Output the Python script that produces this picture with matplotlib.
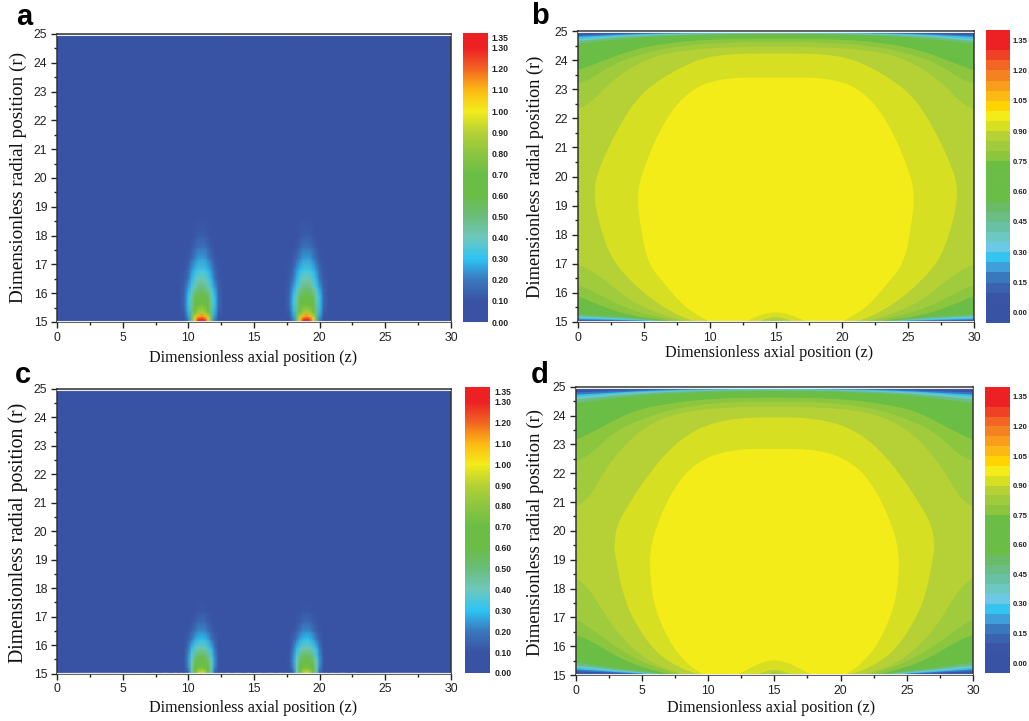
import numpy as np
from matplotlib import pyplot as plt
from matplotlib.cm import ScalarMappable
from matplotlib.colors import BoundaryNorm, LinearSegmentedColormap, ListedColormap, Normalize
from matplotlib.patches import PathPatch, Rectangle
from matplotlib.path import Path

W, H = 1029, 721

# panels b, d: iso-lines, as (z, r) from the top of the channel centre
# round the left side to the bottom of the centre; the right half is the mirror image
ISO_B_075 = [(15, 24.74), (10, 24.72), (6.6, 24.58), (4, 24.34), (1.5, 23.9), (0, 23.65), (-1, 23.5), (-1, 16),
             (0, 15.9), (1.5, 15.6), (4, 15.2), (6.6, 15.07), (8, 14.95), (14, 14.9), (15, 15.05)]
ISO_B_080 = [(15, 24.62), (11.6, 24.62), (7.9, 24.5), (5.3, 24.28), (2.8, 23.9), (1, 23.35), (0, 23.2), (-1, 23.1),
             (-1, 16.4), (0, 16.3), (1.5, 15.96), (4, 15.4), (6.6, 15.12), (8.5, 14.95), (14, 14.9), (15, 15.08)]
ISO_B_085 = [(15, 24.46), (11.6, 24.46), (7.9, 24.34), (5.3, 24.07), (2.8, 23.4), (0.9, 22.5), (0, 22.3), (-1, 22.2),
             (-1, 17.1), (0, 17), (1.5, 16.65), (4, 15.7), (6.6, 15.2), (8.4, 15), (11, 14.9), (14, 14.95), (15, 15.12)]
ISO_B_090 = [(15, 24.24), (10.4, 24.2), (7.9, 23.8), (5, 22.97), (3.3, 21.9), (1.5, 20.2), (1.2, 19.4), (1.6, 18.4),
             (2.5, 17.2), (4, 16.4), (5.8, 15.7), (7.9, 15.15), (9.2, 15), (11, 14.9), (13.5, 14.95), (14, 15.08), (15, 15.2)]
ISO_B_095 = [(15, 23.4), (11, 23.4), (8.5, 23), (6.5, 21.9), (4.9, 20.2), (4.5, 19.4), (4.7, 18.4), (5.3, 17),
             (6.6, 16.3), (7.9, 15.6), (9, 15.25), (10, 15), (11, 14.9), (12.2, 14.9), (12.9, 15.05), (14, 15.28), (15, 15.35)]

ISO_D_075 = [(15, 24.63), (10.4, 24.6), (6.6, 24.4), (4.1, 24.13), (1.6, 23.5), (0, 23.15), (-1, 23), (-1, 16.5),
             (0, 16.39), (1.1, 16.2), (3.6, 15.5), (6.1, 15.12), (8, 14.95), (14, 14.9), (15, 15.05)]
ISO_D_080 = [(15, 24.48), (11.7, 24.48), (7.9, 24.3), (5.4, 23.96), (2.9, 23.45), (1.1, 22.65), (0, 22.4), (-1, 22.3),
             (-1, 17.1), (0, 16.97), (1.6, 16.45), (4.1, 15.64), (6.6, 15.17), (8.5, 14.95), (14, 14.9), (15, 15.1)]
ISO_D_085 = [(15, 24.3), (11.7, 24.3), (7.9, 24.13), (5.4, 23.67), (3.6, 22.95), (2.1, 22.05), (1.1, 21.2), (0, 20.8),
             (-1, 20.6), (-1, 18.6), (0, 18.4), (1.1, 17.95), (2.1, 17.15), (3.6, 16.2), (5.4, 15.5), (7.4, 15.1),
             (9, 14.95), (14, 14.9), (15, 15.15)]
ISO_D_090 = [(15, 23.95), (11.7, 23.9), (9.1, 23.55), (7.1, 22.85), (5.4, 21.9), (4.1, 21), (3.1, 20.2), (2.9, 19.5),
             (3, 19.1), (3.6, 17.7), (4.6, 16.7), (6.1, 15.75), (7.9, 15.23), (9.4, 15), (11, 14.9), (13, 14.95),
             (13.9, 15.05), (15, 15.22)]
ISO_D_095 = [(15, 22.85), (11.7, 22.83), (9.1, 22.4), (7.4, 21.5), (6.1, 20.2), (5.6, 19.3), (5.6, 18.5), (5.9, 17.4),
             (7.1, 16.1), (8.4, 15.4), (9.3, 15.1), (10, 14.95), (11, 14.9), (11.9, 14.95), (12.6, 15.1), (13.8, 15.4),
             (15, 15.55)]

ISO_LEVELS = [.75, .8, .85, .9, .95]

# thin wall layers, r of each level at the axial stations below
WALL_LEVELS = [.05, .15, .25, .35, .45, .55]
WALL_Z_TOP = [15, 10, 6, 3, 0]
WALL_Z_BOTTOM = [0, 3, 6]
WALL_TOP_B = [[24.97, 24.96, 24.95, 24.94, 24.92],
              [24.96, 24.95, 24.93, 24.9, 24.85],
              [24.94, 24.93, 24.91, 24.87, 24.8],
              [24.93, 24.92, 24.89, 24.84, 24.72],
              [24.92, 24.9, 24.86, 24.8, 24.65],
              [24.9, 24.88, 24.82, 24.72, 24.56]]
WALL_BOTTOM_B = [[15.04, 15.03, 15.01], [15.07, 15.05, 15.02], [15.1, 15.07, 15.03],
                 [15.14, 15.1, 15.04], [15.2, 15.13, 15.05], [15.27, 15.18, 15.07]]
WALL_TOP_D = [[24.96, 24.95, 24.94, 24.92, 24.9],
              [24.95, 24.93, 24.9, 24.85, 24.8],
              [24.93, 24.91, 24.87, 24.8, 24.72],
              [24.91, 24.89, 24.84, 24.76, 24.64],
              [24.89, 24.87, 24.8, 24.7, 24.55],
              [24.86, 24.83, 24.75, 24.62, 24.42]]
WALL_BOTTOM_D = [[15.07, 15.04, 15.01], [15.14, 15.07, 15.02], [15.2, 15.1, 15.02],
                 [15.26, 15.13, 15.03], [15.34, 15.17, 15.05], [15.44, 15.23, 15.08]]

# plume panels a, c: table around one jet, columns are distances from the jet axis
JET_AXES = [11, 19]
JET_DZ = [0, .25, .5, .75, 1.0, 1.3, 1.7, 2.3, 3.2, 4]
BACKGROUND = 0.03

JET_R_A = [15.04, 15.1, 15.2, 15.35, 15.6, 15.9, 16.2, 16.5, 16.8, 17.2, 17.6, 18, 18.6, 19.5, 21, 24.96]
JET_A = [
    [1.33, 1.3, 1.1, .5, .2, .09, .06, .04, .03, .03],
    [1.3, 1.25, 1.05, .5, .22, .1, .06, .04, .03, .03],
    [1.15, 1.1, .9, .5, .25, .11, .06, .04, .03, .03],
    [.88, .85, .72, .48, .28, .13, .07, .04, .03, .03],
    [.72, .7, .62, .46, .31, .16, .08, .05, .03, .03],
    [.62, .60, .55, .42, .3, .15, .08, .05, .03, .03],
    [.50, .48, .43, .34, .25, .14, .08, .05, .03, .03],
    [.42, .41, .35, .28, .19, .12, .08, .05, .03, .03],
    [.34, .33, .29, .24, .16, .11, .07, .05, .03, .03],
    [.25, .25, .21, .16, .12, .09, .07, .05, .03, .03],
    [.18, .18, .15, .12, .1, .08, .06, .05, .03, .03],
    [.13, .13, .11, .1, .08, .07, .06, .05, .03, .03],
    [.09, .09, .08, .08, .07, .06, .05, .04, .03, .03],
    [.06, .06, .06, .06, .05, .05, .05, .04, .03, .03],
    [.03, .03, .03, .03, .03, .03, .03, .03, .03, .03],
    [.03, .03, .03, .03, .03, .03, .03, .03, .03, .03],
]
JET_R_C = [15.04, 15.1, 15.2, 15.4, 15.6, 15.9, 16.2, 16.5, 16.8, 17.2, 17.6, 18, 19.5, 21, 24.96]
JET_C = [
    [.95, .90, .7, .38, .16, .08, .05, .04, .03, .03],
    [.88, .84, .68, .4, .18, .09, .05, .04, .03, .03],
    [.75, .72, .62, .42, .22, .1, .06, .04, .03, .03],
    [.68, .65, .55, .4, .24, .11, .06, .04, .03, .03],
    [.58, .56, .48, .36, .23, .11, .06, .04, .03, .03],
    [.42, .41, .36, .29, .19, .1, .06, .04, .03, .03],
    [.3, .29, .26, .2, .14, .09, .06, .04, .03, .03],
    [.22, .22, .18, .14, .11, .08, .06, .04, .03, .03],
    [.16, .16, .13, .11, .09, .07, .05, .04, .03, .03],
    [.11, .11, .1, .09, .08, .06, .05, .04, .03, .03],
    [.08, .08, .08, .07, .06, .06, .05, .04, .03, .03],
    [.06, .06, .06, .05, .05, .05, .05, .04, .03, .03],
    [.04, .04, .04, .04, .04, .04, .04, .03, .03, .03],
    [.03, .03, .03, .03, .03, .03, .03, .03, .03, .03],
    [.03, .03, .03, .03, .03, .03, .03, .03, .03, .03],
]

# colours
SMOOTH_VALUES = [0, .1, .2, .3, .4, .5, .6, .7, .8, .9, 1.0, 1.1, 1.2, 1.3, 1.37]
SMOOTH_COLORS = ['#3953a4', '#3953a4', '#3a78bd', '#2cc4f4', '#6fc8bd', '#6abd7a', '#6abd45', '#6abd45',
                 '#8cc63f', '#b5d135', '#f3ec19', '#fdb913', '#f26522', '#ed2024', '#ed2024']
BAND_COLORS = ['#3953a4', '#3953a4', '#3a55a6', '#3a62ae', '#3a78bd', '#3f9fd8', '#35c3f0', '#6cc9e6',
               '#6dc8c3', '#69c1a5', '#6abd85', '#6abb68', '#6abd45', '#6abd45', '#6abd45', '#6abd45',
               '#8cc63f', '#9fcb3c', '#b5d135', '#d7df23', '#f3ec19', '#ffd400', '#fdb913', '#f99d1c',
               '#f58220', '#f26522', '#ef4123', '#ed2024', '#ed2024']
BAND_EDGES = [round(-.05 + .05 * i, 2) for i in range(30)]

TICKS_SMOOTH = [0, .1, .2, .3, .4, .5, .6, .7, .8, .9, 1.0, 1.1, 1.2, 1.3, 1.35]
TICKS_BANDS = [0, .15, .3, .45, .6, .75, .9, 1.05, 1.2, 1.35]

# pixel boxes: left, right, top, bottom
BOXES = {'a': (57, 451, 34, 322), 'b': (577.7, 974, 31, 322),
         'c': (57, 451, 389, 673.5), 'd': (575.7, 973, 386.7, 675)}
CBAR_BOXES = {'a': (463, 487.5, 33, 322), 'b': (986, 1010, 30, 323),
              'c': (465, 490, 387, 673), 'd': (985, 1010, 387, 673)}
LETTERS = {'a': (16, 25), 'b': (531, 24), 'c': (15, 383), 'd': (531, 383)}
XLABELS = {'a': (253, 358), 'b': (769, 353), 'c': (253, 708), 'd': (771, 708)}
YLABELS = {'a': (18, 177), 'b': (535, 177), 'c': (18, 533), 'd': (535, 533)}
YLABEL_SIZES = {'a': 13.8, 'b': 13.2, 'c': 14.2, 'd': 13.5}

SANS = 'Liberation Sans'
SERIF = 'Liberation Serif'


def box_axes(fig, box):
    left, right, top, bottom = box
    return fig.add_axes([left / W, 1 - bottom / H, (right - left) / W, (bottom - top) / H])


def jet_field(dz, table):
    table = np.asarray(table)
    dz = np.asarray(dz)
    z = [[0], JET_AXES[0] - dz[:0:-1], [JET_AXES[0]], JET_AXES[0] + dz[1:],
         JET_AXES[1] - dz[:0:-1], [JET_AXES[1]], JET_AXES[1] + dz[1:], [30]]
    rows = np.full((table.shape[0], 1), BACKGROUND)
    jet = np.hstack([table[:, :0:-1], table])
    return np.concatenate(z), np.hstack([rows, jet, jet, rows])


def loop_path(points):
    # mirror the left half and run a closed quadratic spline through the loop
    left = np.array(points, dtype=float)
    right = left[-2:0:-1].copy()
    right[:, 0] = 30 - right[:, 0]
    ctrl = np.vstack([left, right])
    mids = (ctrl + np.roll(ctrl, -1, axis=0)) / 2
    verts = [mids[-1]]
    codes = [Path.MOVETO]
    for c, m in zip(ctrl, mids):
        verts += [c, m]
        codes += [Path.CURVE3, Path.CURVE3]
    return Path(verts, codes)


def wall_loop(top, bottom):
    pts = list(zip(WALL_Z_TOP, top))
    pts += [(-1, top[-1]), (-1, bottom[0])]
    pts += list(zip(WALL_Z_BOTTOM, bottom))
    pts += [(8, 14.9), (15, 14.9)]
    return pts


def fill_loop(ax, points, color, clip):
    patch = PathPatch(loop_path(points), facecolor=color, edgecolor='none', lw=0)
    ax.add_patch(patch)
    patch.set_clip_path(clip)


def style_axes(ax):
    ax.set_xlim(0, 30)
    ax.set_ylim(15, 25)
    ax.set_xticks(range(0, 31, 5))
    ax.set_xticks(np.arange(2.5, 30, 5), minor=True)
    ax.set_yticks(range(15, 26))
    ax.set_yticks(np.arange(15.5, 25, 1), minor=True)
    ax.tick_params(which='major', length=4.5, width=1, color='#222222', labelcolor='#222222', labelsize=8.8, pad=2.5)
    ax.tick_params(which='minor', length=2.5, width=1, color='#222222')
    for tick in ax.get_xticklabels() + ax.get_yticklabels():
        tick.set_family(SANS)
    for spine in ax.spines.values():
        spine.set_linewidth(1.1)
        spine.set_color('#333333')
    # the pale lines left between the field and the frame
    ax.axhline(15.03, color='#e8edf5', lw=0.8, zorder=3)
    ax.axhline(24.97, color='#e8edf5', lw=0.8, zorder=3)


def add_texts(fig, name):
    x, y = LETTERS[name]
    fig.text(x / W, 1 - y / H, name, family=SANS, weight='bold', size=21, color='black', va='baseline')
    x, y = XLABELS[name]
    fig.text(x / W, 1 - y / H, 'Dimensionless axial position (z)', family=SERIF, size=11.6,
             ha='center', va='center', color='#111111')
    x, y = YLABELS[name]
    fig.text(x / W, 1 - y / H, 'Dimensionless radial position (r)', family=SERIF, size=YLABEL_SIZES[name],
             rotation=90, ha='center', va='center', color='#111111')


def add_colorbar(fig, name, mappable, ticks, size, pad):
    cax = box_axes(fig, CBAR_BOXES[name])
    cbar = fig.colorbar(mappable, cax=cax, ticks=ticks)
    cbar.outline.set_visible(False)
    cbar.ax.tick_params(which='both', length=0, pad=pad)
    cbar.ax.set_yticklabels([f'{t:.2f}' for t in ticks], family=SANS, weight='bold', size=size, color='#222222')


def plot_jet_panel(fig, name, r, table, cmap, norm):
    ax = box_axes(fig, BOXES[name])
    z, field = jet_field(JET_DZ, table)
    zz, rr = np.meshgrid(z, r)
    ax.pcolormesh(zz, rr, np.clip(field, 0, 1.37), cmap=cmap, norm=norm, shading='gouraud')
    style_axes(ax)
    add_texts(fig, name)
    add_colorbar(fig, name, ScalarMappable(norm=norm, cmap=cmap), TICKS_SMOOTH, 6.2, 3)


def plot_band_panel(fig, name, isolines, wall_top, wall_bottom, cmap, norm):
    ax = box_axes(fig, BOXES[name])
    clip = Rectangle((0, 15.03), 30, 9.94, transform=ax.transData)
    ax.add_patch(Rectangle((0, 15.03), 30, 9.94, facecolor=cmap(norm(0.0)), edgecolor='none'))
    for level, top, bottom in zip(WALL_LEVELS, wall_top, wall_bottom):
        fill_loop(ax, wall_loop(top, bottom), cmap(norm(level + .001)), clip)
    for level, iso in zip(ISO_LEVELS, isolines):
        fill_loop(ax, iso, cmap(norm(level + .001)), clip)
    style_axes(ax)
    add_texts(fig, name)
    add_colorbar(fig, name, ScalarMappable(norm=norm, cmap=cmap), TICKS_BANDS, 5.5, 2)


def main():
    fig = plt.figure(figsize=(W / 100, H / 100), dpi=100)

    smooth_norm = Normalize(0, 1.37)
    smooth_cmap = LinearSegmentedColormap.from_list(
        'smooth', [(v / 1.37, c) for v, c in zip(SMOOTH_VALUES, SMOOTH_COLORS)], N=512)
    band_norm = BoundaryNorm(BAND_EDGES, len(BAND_COLORS))
    band_cmap = ListedColormap(BAND_COLORS)

    plot_jet_panel(fig, 'a', JET_R_A, JET_A, smooth_cmap, smooth_norm)
    plot_band_panel(fig, 'b', [ISO_B_075, ISO_B_080, ISO_B_085, ISO_B_090, ISO_B_095],
                    WALL_TOP_B, WALL_BOTTOM_B, band_cmap, band_norm)
    plot_jet_panel(fig, 'c', JET_R_C, JET_C, smooth_cmap, smooth_norm)
    plot_band_panel(fig, 'd', [ISO_D_075, ISO_D_080, ISO_D_085, ISO_D_090, ISO_D_095],
                    WALL_TOP_D, WALL_BOTTOM_D, band_cmap, band_norm)

    fig.savefig('out.png', dpi=100)


if __name__ == "__main__":
    main()
